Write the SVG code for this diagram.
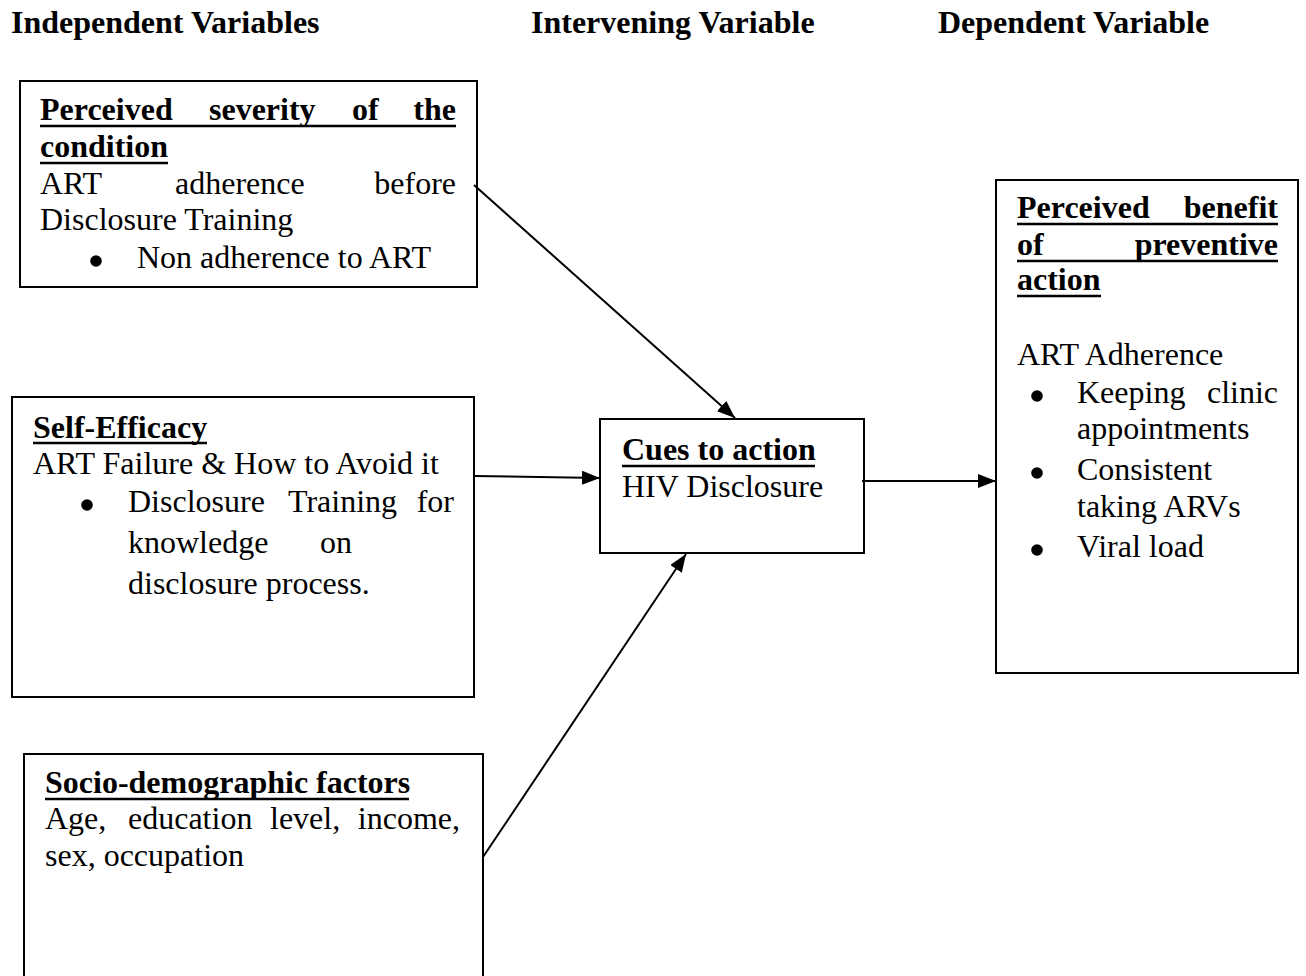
<svg xmlns="http://www.w3.org/2000/svg" width="1306" height="976" viewBox="0 0 1306 976">
  <style>
    .hdr { font-family: "Liberation Serif", "Times New Roman", serif; font-size: 32px; font-weight: bold; fill: #000; }
    .t { font-family: "Liberation Serif", "Times New Roman", serif; font-size: 32px; fill: #000; }
    .b { font-weight: bold; }
    .dot { fill: #000; }
    .box { fill: #fff; stroke: #000; stroke-width: 2; }
    .ul { stroke: #000; stroke-width: 2.5; }
    .conn { stroke: #000; stroke-width: 2; fill: none; marker-end: url(#arrow); }
  </style>
  <defs>
    <marker id="arrow" viewBox="0 0 18 14" refX="18" refY="7" markerWidth="18" markerHeight="14" markerUnits="userSpaceOnUse" orient="auto">
      <path d="M0,0 L18,7 L0,14 Z" fill="#000"/>
    </marker>
  </defs>

  <rect x="0" y="0" width="1306" height="976" fill="#fff"/>

  <!-- column headings -->
  <g id="headings">
    <text class="hdr" x="11" y="33">Independent Variables</text>
    <text class="hdr" x="531" y="33">Intervening Variable</text>
    <text class="hdr" x="938" y="33">Dependent Variable</text>
  </g>

  <!-- perceived severity -->
  <g id="node-severity">
    <rect class="box" x="20" y="81" width="457" height="206"/>
    <text class="t b" y="120"><tspan x="40">Perceived</tspan><tspan x="209">severity</tspan><tspan x="352">of</tspan></text>
    <text class="t b" x="456" y="120" text-anchor="end">the</text>
    <line class="ul" x1="40" y1="126" x2="456" y2="126"/>
    <text class="t b" x="40" y="157">condition</text>
    <line class="ul" x1="40" y1="163" x2="168" y2="163"/>
    <text class="t" y="194"><tspan x="40">ART</tspan><tspan x="175">adherence</tspan></text>
    <text class="t" x="456" y="194" text-anchor="end">before</text>
    <text class="t" x="40" y="230">Disclosure Training</text>
    <circle class="dot" cx="96" cy="261" r="5.8"/>
    <text class="t" x="137" y="268">Non adherence to ART</text>
  </g>

  <!-- self-efficacy -->
  <g id="node-self-efficacy">
    <rect class="box" x="12" y="397" width="462" height="300"/>
    <text class="t b" x="33" y="438">Self-Efficacy</text>
    <line class="ul" x1="33" y1="443" x2="207" y2="443"/>
    <text class="t" x="33" y="474">ART Failure &amp; How to Avoid it</text>
    <circle class="dot" cx="87" cy="505" r="5.8"/>
    <text class="t" y="512"><tspan x="128">Disclosure</tspan><tspan x="288">Training</tspan></text>
    <text class="t" x="454" y="512" text-anchor="end">for</text>
    <text class="t" y="553"><tspan x="128">knowledge</tspan><tspan x="320">on</tspan></text>
    <text class="t" x="128" y="594">disclosure process.</text>
  </g>

  <!-- socio-demographic factors -->
  <g id="node-socio">
    <rect class="box" x="24" y="754" width="459" height="240"/>
    <text class="t b" x="45" y="793">Socio-demographic factors</text>
    <line class="ul" x1="45" y1="799" x2="409" y2="799"/>
    <text class="t" y="829"><tspan x="45">Age,</tspan><tspan x="128">education</tspan><tspan x="270">level,</tspan></text>
    <text class="t" x="460" y="829" text-anchor="end">income,</text>
    <text class="t" x="45" y="866">sex, occupation</text>
  </g>

  <!-- cues to action -->
  <g id="node-cues">
    <rect class="box" x="600" y="419" width="264" height="134"/>
    <text class="t b" x="622" y="460">Cues to action</text>
    <line class="ul" x1="622" y1="466" x2="815" y2="466"/>
    <text class="t" x="622" y="497">HIV Disclosure</text>
  </g>

  <!-- perceived benefit -->
  <g id="node-benefit">
    <rect class="box" x="996" y="180" width="302" height="493"/>
    <text class="t b" x="1017" y="218">Perceived</text>
    <text class="t b" x="1278" y="218" text-anchor="end">benefit</text>
    <line class="ul" x1="1017" y1="224" x2="1278" y2="224"/>
    <text class="t b" x="1017" y="255">of</text>
    <text class="t b" x="1278" y="255" text-anchor="end">preventive</text>
    <line class="ul" x1="1017" y1="261" x2="1278" y2="261"/>
    <text class="t b" x="1017" y="290">action</text>
    <line class="ul" x1="1017" y1="296" x2="1101" y2="296"/>
    <text class="t" x="1017" y="365">ART Adherence</text>
    <circle class="dot" cx="1037" cy="396" r="5.8"/>
    <text class="t" x="1077" y="403">Keeping</text>
    <text class="t" x="1278" y="403" text-anchor="end">clinic</text>
    <text class="t" x="1077" y="439">appointments</text>
    <circle class="dot" cx="1037" cy="473" r="5.8"/>
    <text class="t" x="1077" y="480">Consistent</text>
    <text class="t" x="1077" y="517">taking ARVs</text>
    <circle class="dot" cx="1037" cy="550" r="5.8"/>
    <text class="t" x="1077" y="557">Viral load</text>
  </g>

  <!-- connectors -->
  <g id="connectors">
    <line class="conn" x1="474" y1="185" x2="735" y2="418"/>
    <line class="conn" x1="474" y1="476" x2="600" y2="478"/>
    <line class="conn" x1="483" y1="857" x2="686" y2="554"/>
    <line class="conn" x1="862" y1="481" x2="996" y2="481"/>
  </g>
</svg>
